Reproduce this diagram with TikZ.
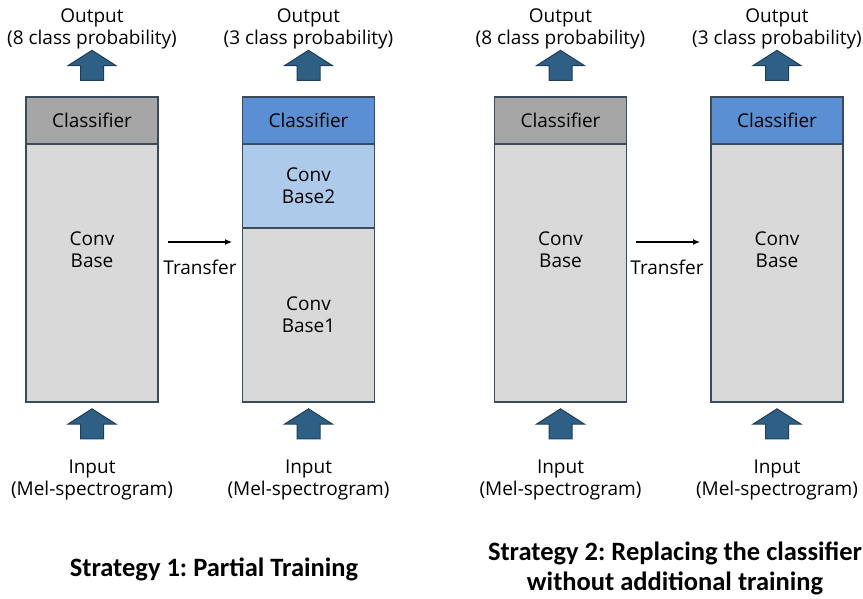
\documentclass[tikz,border=0pt]{standalone}
\usepackage{fontspec}
\setmainfont{Open Sans}
\newfontfamily\titlefont{Carlito}
\usetikzlibrary{arrows.meta,shapes.arrows}
\frenchspacing

\definecolor{edgeblue}{HTML}{3A4B5C}
\definecolor{clsgrey}{HTML}{A6A6A6}
\definecolor{basegrey}{HTML}{D9D9D9}
\definecolor{clsblue}{HTML}{5B8FD3}
\definecolor{baseblue}{HTML}{ADCAEA}
\definecolor{arrowfill}{HTML}{2E6085}
\definecolor{arrowedge}{HTML}{1E3F57}

\tikzset{
  lbl/.style={align=center, font=\fontsize{19}{22}\selectfont},
  block/.style={draw=edgeblue, line width=1.5pt, minimum width=132pt, inner sep=0pt, lbl},
  uparrow/.style={single arrow, draw=arrowedge, fill=arrowfill, line width=1pt,
    shape border rotate=90, minimum width=47pt, minimum height=30pt,
    single arrow head extend=12.5pt, single arrow tip angle=115,
    inner xsep=11pt, inner ysep=0pt},
  xfer/.style={line width=1.2pt, -{Latex[length=7pt,width=6pt]}},
  title/.style={align=center, font=\titlefont\bfseries\fontsize{26.5}{30}\selectfont},
}

\begin{document}
\begin{tikzpicture}[x=1pt,y=1pt]
\useasboundingbox (0,0) rectangle (863,598);

% strategy 1, source model
\node[block, fill=basegrey, minimum height=258pt] (base1) at (92,325) {};
\node[block, fill=clsgrey, minimum height=47pt] (cls1) at (92,477.5) {Classifier};
\node[lbl] (basetxt1) at (92,348) {Conv\\Base};
\node[uparrow] (oa1) at (92,529) {};
\node[uparrow] (ia1) at (92,170.5) {};
\node[lbl] (out1) at (92,569) {Output\\(8 class probability)};
\node[lbl] (in1) at (92,118) {Input\\(Mel-spectrogram)};

% strategy 1, target model
\node[block, fill=basegrey, minimum height=174pt] (base2a) at (308.5,283) {Conv\\Base1};
\node[block, fill=baseblue, minimum height=84pt] (base2b) at (308.5,412) {Conv\\Base2};
\node[block, fill=clsblue, minimum height=47pt] (cls2) at (308.5,477.5) {Classifier};
\node[uparrow] (oa2) at (308.5,529) {};
\node[uparrow] (ia2) at (308.5,170.5) {};
\node[lbl] (out2) at (308.5,569) {Output\\(3 class probability)};
\node[lbl] (in2) at (308.5,118) {Input\\(Mel-spectrogram)};

\coordinate (t1s) at (168,356);
\coordinate (t1e) at (232,356);
\draw[xfer] (t1s) -- (t1e);
\node[lbl] (tr1) at (200,331) {Transfer};

% strategy 2, source model
\node[block, fill=basegrey, minimum height=258pt] (base3) at (560.5,325) {};
\node[block, fill=clsgrey, minimum height=47pt] (cls3) at (560.5,477.5) {Classifier};
\node[lbl] (basetxt3) at (560.5,348) {Conv\\Base};
\node[uparrow] (oa3) at (560.5,529) {};
\node[uparrow] (ia3) at (560.5,170.5) {};
\node[lbl] (out3) at (560.5,569) {Output\\(8 class probability)};
\node[lbl] (in3) at (560.5,118) {Input\\(Mel-spectrogram)};

% strategy 2, target model
\node[block, fill=basegrey, minimum height=258pt] (base4) at (777,325) {};
\node[block, fill=clsblue, minimum height=47pt] (cls4) at (777,477.5) {Classifier};
\node[lbl] (basetxt4) at (777,348) {Conv\\Base};
\node[uparrow] (oa4) at (777,529) {};
\node[uparrow] (ia4) at (777,170.5) {};
\node[lbl] (out4) at (777,569) {Output\\(3 class probability)};
\node[lbl] (in4) at (777,118) {Input\\(Mel-spectrogram)};

\coordinate (t2s) at (636,356);
\coordinate (t2e) at (700,356);
\draw[xfer] (t2s) -- (t2e);
\node[lbl] (tr2) at (667,331) {Transfer};

% captions
\node[title] (title1) at (214,29) {Strategy 1: Partial Training};
\node[title] (title2) at (675,30) {Strategy 2: Replacing the classifier\\without additional training};

\end{tikzpicture}
\end{document}
